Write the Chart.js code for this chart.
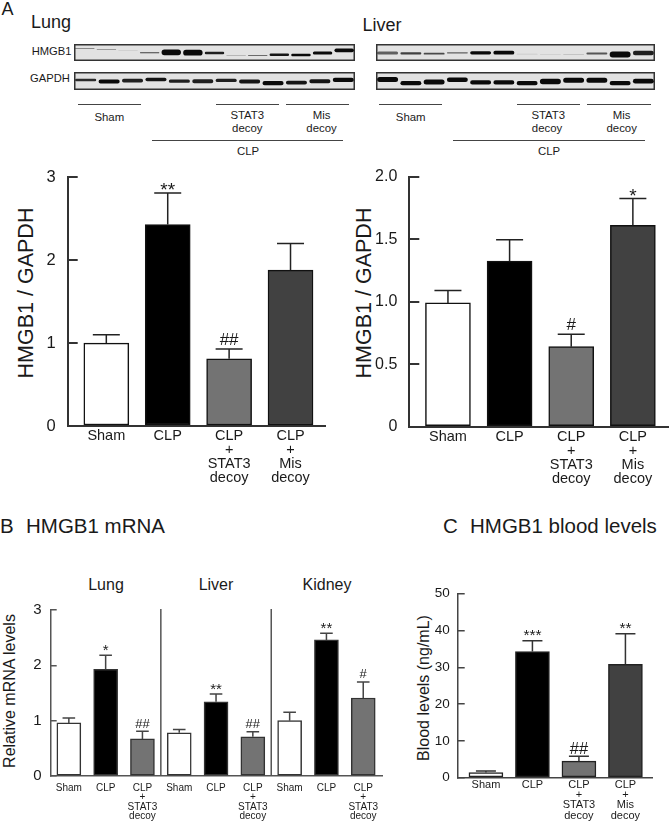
<!DOCTYPE html>
<html>
<head>
<meta charset="utf-8">
<title>HMGB1 figure</title>
<script src="https://cdn.jsdelivr.net/npm/chart.js@4"></script>
<style>
  html, body { margin: 0; padding: 0; background: #fff; }
  #page { position: relative; width: 669px; height: 823px; overflow: hidden; font-family: "Liberation Sans", Arial, sans-serif; color: #1a1a1a; }
  canvas { position: absolute; display: block; }
  .txt { position: absolute; white-space: nowrap; line-height: 1; }
  .rule { position: absolute; background: #444; }
</style>
</head>
<body>
<div id="page"></div>
<script>
const fourGroups = [['Sham'], ['CLP'], ['CLP', '+', 'STAT3', 'decoy'], ['CLP', '+', 'Mis', 'decoy']];
const nineGroups = [['Sham'], ['CLP'], ['CLP', '+', 'STAT3', 'decoy'], ['Sham'], ['CLP'], ['CLP', '+', 'STAT3', 'decoy'], ['Sham'], ['CLP'], ['CLP', '+', 'STAT3', 'decoy']];

const lungProtein = [1.0, 2.43, 0.81, 1.88];
const lungProteinTop = [1.10, 2.81, 0.93, 2.20];
const lungProteinMarks = ['', '**', '##', ''];
const lungProteinTicks = ['0', '1', '2', '3'];

const liverProtein = [0.99, 1.325, 0.64, 1.61];
const liverProteinTop = [1.09, 1.495, 0.74, 1.825];
const liverProteinMarks = ['', '', '#', '*'];
const liverProteinTicks = ['0', '0.5', '1.0', '1.5', '2.0'];

const mrnaLevels = [0.96, 1.93, 0.67, 0.78, 1.34, 0.71, 1.0, 2.46, 1.41];
const mrnaTop = [1.05, 2.18, 0.81, 0.84, 1.48, 0.80, 1.15, 2.58, 1.70];
const mrnaMarks = ['', '*', '##', '', '**', '##', '', '**', '#'];
const mrnaTicks = ['0', '1', '2', '3'];

const bloodLevels = [1.4, 34.3, 4.5, 30.8];
const bloodTop = [1.8, 37.2, 5.8, 39.1];
const bloodMarks = ['', '***', '##', '**'];
const bloodTicks = ['0', '10', '20', '30', '40', '50'];

// western blot strips: band low edge, high edge (0-100 of strip height) and strength per lane
const lungHmgbLow = [70, 66, 60, 46, 34, 32, 40, 32, 30, 30, 28, 38, 52];
const lungHmgbHigh = [75, 70, 63, 51, 68, 66, 54, 35, 36, 44, 42, 56, 74];
const lungHmgbStrength = [0.55, 0.45, 0.15, 0.75, 1, 1, 0.9, 0.4, 0.55, 0.95, 1, 1, 1];
const lungGapdhLow = [48, 36, 42, 48, 40, 38, 44, 36, 26, 30, 38, 44];
const lungGapdhHigh = [62, 58, 62, 68, 58, 60, 62, 58, 50, 52, 60, 68];
const lungGapdhStrength = [0.85, 1, 0.9, 0.95, 0.9, 0.9, 0.9, 0.95, 1, 0.95, 0.95, 1];
const liverHmgbLow = [38, 38, 38, 44, 38, 38, 38, 36, 36, 38, 20, 34];
const liverHmgbHigh = [56, 52, 48, 52, 58, 60, 42, 40, 40, 50, 56, 60];
const liverHmgbStrength = [0.6, 0.75, 0.7, 0.6, 1, 1, 0.12, 0.1, 0.18, 0.65, 1, 0.9];
const liverGapdhLow = [44, 26, 30, 44, 30, 30, 26, 32, 40, 40, 26, 36];
const liverGapdhHigh = [72, 50, 58, 70, 54, 54, 50, 62, 68, 68, 50, 62];
const liverGapdhStrength = [1, 1, 1, 1, 1, 1, 1, 1, 1, 1, 1, 1];

const page = document.getElementById('page');
const fillFour = ['#ffffff', '#000000', '#737373', '#414141'];
const fillNine = ['#ffffff', '#000000', '#737373', '#ffffff', '#000000', '#737373', '#ffffff', '#000000', '#737373'];

function addText(str, x, y, size, opts) {
    const el = document.createElement('div');
    const o = opts || {};
    el.className = 'txt';
    el.textContent = str;
    el.style.left = x + 'px';
    el.style.top = y + 'px';
    el.style.fontSize = size + 'px';
    const ax = o.left ? '0' : '-50%';
    el.style.transform = 'translate(' + ax + ',-50%)' + (o.rotate ? ' rotate(-90deg)' : '');
    page.appendChild(el);
}

function addRule(x1, x2, y, h) {
    const el = document.createElement('div');
    el.className = 'rule';
    el.style.left = x1 + 'px';
    el.style.top = y + 'px';
    el.style.width = (x2 - x1) + 'px';
    el.style.height = (h || 1) + 'px';
    page.appendChild(el);
}

function addCanvas(left, top, width, height) {
    const c = document.createElement('canvas');
    c.width = width;
    c.height = height;
    c.style.left = left + 'px';
    c.style.top = top + 'px';
    c.style.width = width + 'px';
    c.style.height = height + 'px';
    page.appendChild(c);
    return c;
}

// error bars and significance marks, placed with the chart's own scales
function errorPlugin(tops, marks, p) {
    return {
        id: 'errorBars',
        afterDatasetsDraw(chart) {
            const ctx = chart.ctx;
            const y = chart.scales.y;
            const bars = chart.getDatasetMeta(0).data;
            ctx.save();
            ctx.strokeStyle = p.errColor;
            ctx.lineWidth = p.errWidth;
            ctx.fillStyle = '#1a1a1a';
            ctx.textAlign = 'center';
            ctx.textBaseline = 'alphabetic';
            bars.forEach((bar, i) => {
                const py = y.getPixelForValue(tops[i]);
                ctx.beginPath();
                ctx.moveTo(bar.x, bar.y);
                ctx.lineTo(bar.x, py);
                ctx.moveTo(bar.x - p.cap, py);
                ctx.lineTo(bar.x + p.cap, py);
                ctx.stroke();
                if (marks[i].includes('#')) {
                    ctx.font = p.hashSize + 'px "Liberation Sans", Arial, sans-serif';
                    ctx.fillText(marks[i], bar.x, py - p.hashGap);
                } else if (marks[i]) {
                    ctx.font = p.starSize + 'px "Liberation Sans", Arial, sans-serif';
                    ctx.fillText(marks[i], bar.x, py + p.starDrop);
                }
            });
            if (p.splits) {
                const x = chart.scales.x;
                ctx.strokeStyle = '#555';
                ctx.lineWidth = 1.5;
                p.splits.forEach(s => {
                    const px = x.getPixelForValue(s);
                    ctx.beginPath();
                    ctx.moveTo(px, chart.chartArea.top - 1);
                    ctx.lineTo(px, chart.chartArea.bottom);
                    ctx.stroke();
                });
            }
            ctx.restore();
        }
    };
}

function barPanel(p) {
    const canvas = addCanvas(p.left, p.top, p.width, p.height);
    return new Chart(canvas, {
        type: 'bar',
        data: {
            datasets: [{
                data: p.values.map((v, i) => ({ x: i + 1, y: v })),
                backgroundColor: p.fills,
                borderColor: p.edge,
                borderWidth: p.edgeWidth,
                borderSkipped: false,
                barThickness: p.barWidth
            }]
        },
        plugins: [errorPlugin(p.tops, p.marks, p)],
        options: {
            responsive: false,
            animation: false,
            devicePixelRatio: 1,
            layout: { padding: { top: p.padTop, right: p.padRight, left: 0, bottom: 0 } },
            plugins: { legend: { display: false }, tooltip: { enabled: false } },
            scales: {
                x: {
                    type: 'linear',
                    offset: false,
                    min: p.xMin,
                    max: p.xMax,
                    afterBuildTicks: s => { s.ticks = p.groups.map((g, i) => ({ value: i + 1 })); },
                    afterFit: s => { s.height = p.bottomSpace; s.paddingLeft = 0; s.paddingRight = 0; },
                    grid: { display: false, drawTicks: false, offset: false },
                    border: { color: p.axisColor, width: p.axisWidth },
                    ticks: {
                        autoSkip: false,
                        maxRotation: 0,
                        padding: p.xPad,
                        color: '#1a1a1a',
                        font: { family: '"Liberation Sans", Arial, sans-serif', size: p.xFont, lineHeight: p.xLine / p.xFont },
                        callback: v => p.groups[Math.round(v) - 1]
                    }
                },
                y: {
                    min: 0,
                    max: p.yMax,
                    afterFit: s => { s.width = p.leftSpace; s.paddingTop = 0; s.paddingBottom = 0; },
                    afterBuildTicks: s => { s.ticks = p.yLabels.map((t, i) => ({ value: i * p.yStep })); },
                    grid: { drawOnChartArea: false, tickLength: -p.tick, color: p.axisColor, lineWidth: p.axisWidth },
                    border: { color: p.axisColor, width: p.axisWidth },
                    ticks: {
                        padding: p.tick + p.yGap,
                        color: '#1a1a1a',
                        font: { family: '"Liberation Sans", Arial, sans-serif', size: p.yFont },
                        callback: (v, i) => p.yLabels[i]
                    }
                }
            }
        }
    });
}

// one blot strip: floating rounded bars on a hidden 0-100 scale
function blot(left, top, width, height, lows, highs, strength) {
    const canvas = addCanvas(left, top, width, height);
    canvas.style.background = '#e2e2e2';
    canvas.style.boxShadow = 'inset 0 0 0 1.5px #333';
    return new Chart(canvas, {
        type: 'bar',
        data: {
            labels: lows.map((v, i) => i + 1),
            datasets: [{
                data: lows.map((v, i) => [v, highs[i]]),
                backgroundColor: strength.map(s => 'rgba(10,10,10,' + s + ')'),
                borderSkipped: false,
                borderRadius: 3,
                categoryPercentage: 1,
                barPercentage: 0.9
            }]
        },
        options: {
            responsive: false,
            animation: false,
            devicePixelRatio: 1,
            plugins: { legend: { display: false }, tooltip: { enabled: false } },
            scales: {
                x: { display: false },
                y: { display: false, min: 0, max: 100 }
            }
        }
    });
}

// panel A headers and blots
addText('A', 1.5, 9, 18, { left: true });
addText('Lung', 31, 22, 18, { left: true });
addText('Liver', 362.5, 24.5, 18, { left: true });
addText('HMGB1', 31.7, 51.7, 11.2, { left: true });
addText('GAPDH', 30, 79.3, 11.2, { left: true });

blot(74, 44, 281, 17, lungHmgbLow, lungHmgbHigh, lungHmgbStrength);
blot(74, 72, 281, 18, lungGapdhLow, lungGapdhHigh, lungGapdhStrength);
blot(376, 44, 279, 17, liverHmgbLow, liverHmgbHigh, liverHmgbStrength);
blot(376, 72, 279, 18, liverGapdhLow, liverGapdhHigh, liverGapdhStrength);

addRule(78, 141, 104);
addRule(216, 279, 104);
addRule(286, 349, 104);
addRule(152, 343, 140);
addRule(379, 442, 104);
addRule(517, 580, 104);
addRule(587, 651, 104);
addRule(453, 645, 140);

addText('Sham', 109.3, 118.3, 11.4);
addText('STAT3', 247.3, 115.7, 11.4);
addText('decoy', 247.3, 128.5, 11.4);
addText('Mis', 321.5, 115.7, 11.4);
addText('decoy', 321.5, 128.5, 11.4);
addText('CLP', 248, 151.7, 11.4);
addText('Sham', 410.7, 118.3, 11.4);
addText('STAT3', 548.3, 115.7, 11.4);
addText('decoy', 547, 128.5, 11.4);
addText('Mis', 621.7, 115.7, 11.4);
addText('decoy', 621.7, 128.5, 11.4);
addText('CLP', 549, 151.7, 11.4);

// panel titles
addText('B', 0, 526, 20.5, { left: true });
addText('HMGB1 mRNA', 26, 526, 20.5, { left: true });
addText('C', 443, 526, 20.5, { left: true });
addText('HMGB1 blood levels', 470, 526, 20.5, { left: true });
addText('Lung', 106, 585, 16);
addText('Liver', 216, 585, 16);
addText('Kidney', 327, 585, 16);

addText('HMGB1 / GAPDH', 27, 293, 21.5, { rotate: true });
addText('HMGB1 / GAPDH', 365, 293, 21.5, { rotate: true });
addText('Relative mRNA levels', 10, 690.5, 16, { rotate: true });
addText('Blood levels (ng/mL)', 424, 687.5, 16, { rotate: true });

const panelA = {
    top: 165, height: 330, padTop: 12.3, bottomSpace: 69,
    fills: fillFour, groups: fourGroups, edge: '#111', edgeWidth: 1.5, barWidth: 45,
    axisColor: '#333', axisWidth: 2, tick: 10, yGap: 12, yFont: 16.5,
    xFont: 14.5, xLine: 14, xPad: 3,
    errColor: '#222', errWidth: 1.5, cap: 13.5,
    starSize: 19, starDrop: 3, hashSize: 17, hashGap: 4
};

barPanel(Object.assign({}, panelA, {
    left: 0, width: 335, padRight: 9.3, leftSpace: 67.7,
    xMin: 0.371, xMax: 4.573,
    values: lungProtein, tops: lungProteinTop, marks: lungProteinMarks,
    yMax: 3, yStep: 1, yLabels: lungProteinTicks
}));

barPanel(Object.assign({}, panelA, {
    left: 340, width: 329, padRight: 1, leftSpace: 69.3,
    padTop: 11.7, bottomSpace: 68.3, yFont: 16,
    xMin: 0.373, xMax: 4.57,
    values: liverProtein, tops: liverProteinTop, marks: liverProteinMarks,
    yMax: 2, yStep: 0.5, yLabels: liverProteinTicks
}));

barPanel({
    left: 0, top: 600, width: 395, height: 223, padTop: 10, padRight: 12.3, bottomSpace: 47, leftSpace: 50.7,
    fills: fillNine, groups: nineGroups, edge: '#333', edgeWidth: 1.5, barWidth: 24,
    axisColor: '#555', axisWidth: 1.5, tick: 6, yGap: 9, yFont: 15,
    xFont: 10, xLine: 9.5, xPad: 7,
    errColor: '#444', errWidth: 1.5, cap: 6.3,
    starSize: 15, starDrop: 0, hashSize: 13, hashGap: 3.5,
    xMin: 0.507, xMax: 9.529, splits: [3.5, 6.5],
    values: mrnaLevels, tops: mrnaTop, marks: mrnaMarks,
    yMax: 3, yStep: 1, yLabels: mrnaTicks
});

barPanel({
    left: 400, top: 583, width: 269, height: 240, padTop: 10.7, padRight: 16.7, bottomSpace: 45.3, leftSpace: 57.7,
    fills: fillFour, groups: fourGroups, edge: '#222', edgeWidth: 1.5, barWidth: 34,
    axisColor: '#444', axisWidth: 1.5, tick: 7, yGap: 8, yFont: 13.5,
    xFont: 11, xLine: 10.3, xPad: 2,
    errColor: '#333', errWidth: 1.5, cap: 10,
    starSize: 15.5, starDrop: -0.5, hashSize: 16.5, hashGap: 2,
    xMin: 0.393, xMax: 4.578,
    values: bloodLevels, tops: bloodTop, marks: bloodMarks,
    yMax: 50, yStep: 10, yLabels: bloodTicks
});
</script>
</body>
</html>
